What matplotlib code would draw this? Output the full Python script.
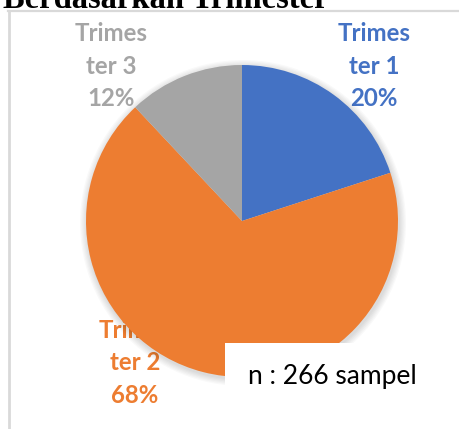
import matplotlib
matplotlib.use("Agg")
import matplotlib.pyplot as plt
from matplotlib.patches import Rectangle, Circle

# ---- data ----
categories = ["Trimester 1", "Trimester 2", "Trimester 3"]
label_lines = [["Trimes", "ter 1"], ["Trimes", "ter 2"], ["Trimes", "ter 3"]]
values = [20, 68, 12]
colors = ["#4472C4", "#ED7D31", "#A5A5A5"]
title = "Berdasarkan Trimester"
note = "n : 266 sampel"

W, H = 460, 429
fig = plt.figure(figsize=(W / 100, H / 100), dpi=100)
ax = fig.add_axes([0, 0, 1, 1])
ax.set_xlim(0, W)
ax.set_ylim(0, H)
ax.axis("off")

def Y(py):
    return H - py

# chart border
ax.plot([8, W + 5], [Y(11), Y(11)], color="#D9D9D9", lw=1.6, zorder=1)
ax.plot([9, 9], [Y(11), Y(H + 5)], color="#D9D9D9", lw=2.0, zorder=1)

# title (cut off at top, as in the source)
ax.text(3, Y(7.5), title, family="Liberation Serif", weight="bold",
        fontsize=23.5, color="black", va="baseline", ha="left", zorder=5)

cx, cy, r = 242, Y(221), 156

# data labels (under the pie)
total = sum(values)
label_pos = [(374, 41), (135, 338), (111.5, 41)]
for lines, v, c, (lx, ly) in zip(label_lines, values, colors, label_pos):
    all_lines = lines + [f"{round(100 * v / total)}%"]
    for i, s in enumerate(all_lines):
        ax.text(lx, Y(ly + i * 32.5), s, family="Lato", weight="bold",
                fontsize=17.3, color=c, ha="center", va="baseline", zorder=2)

# soft shadow
for k in range(6):
    ax.add_patch(Circle((cx + 1, cy - 2), r + 1 + k * 1.2, color="black",
                        alpha=0.025, lw=0, zorder=2.5))

wedges, _ = ax.pie(values, colors=colors, startangle=90, counterclock=False,
                   center=(cx, cy), radius=r, frame=True,
                   wedgeprops=dict(linewidth=0, zorder=3))
for w in wedges:
    w.set_zorder(3)
ax.set_xlim(0, W)
ax.set_ylim(0, H)
ax.axis("off")

# note box
ax.add_patch(Rectangle((225, Y(H + 10)), W, (H + 10) - 343, facecolor="white",
                       edgecolor="none", zorder=4))
ax.text(248, Y(384), note, family="Lato", fontsize=19, color="black",
        ha="left", va="baseline", zorder=5)

fig.savefig("out.png", dpi=100)
